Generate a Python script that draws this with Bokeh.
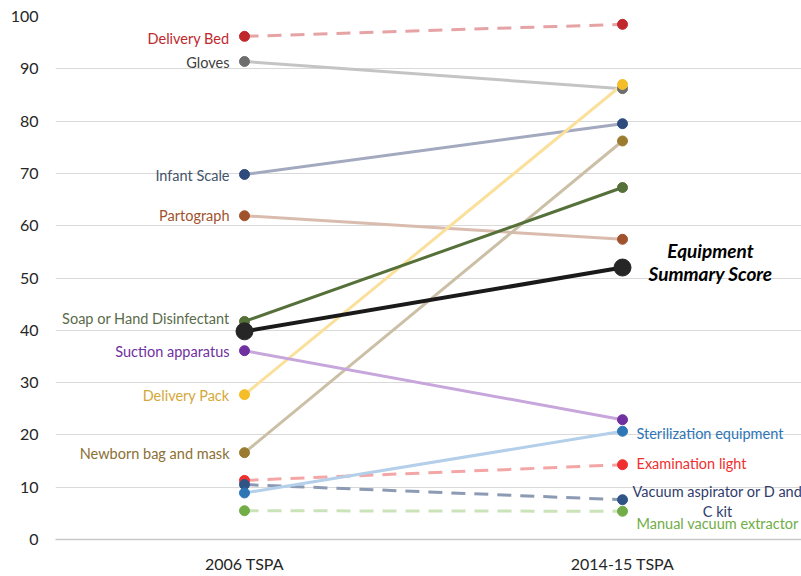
from bokeh.plotting import figure
from bokeh.models import FixedTicker, Range1d
from bokeh.core.properties import value
from bokeh.embed import file_html
from bokeh.resources import INLINE

categories = ["2006 TSPA", "2014-15 TSPA"]

items = ["Delivery Bed", "Gloves", "Infant Scale", "Partograph", "Soap or Hand Disinfectant",
         "Suction apparatus", "Delivery Pack", "Newborn bag and mask", "Examination light",
         "Vacuum aspirator or D and C kit", "Sterilization equipment", "Manual vacuum extractor"]
values_2006 = [96.2, 91.4, 69.8, 61.9, 41.7, 36.1, 27.7, 16.6, 11.3, 10.5, 8.9, 5.5]
values_2015 = [98.5, 86.2, 79.5, 57.4, 67.3, 22.9, 87.0, 76.2, 14.3, 7.6, 20.7, 5.4]

summary_name = "Equipment Summary Score"
summary_2006 = 39.8
summary_2015 = 52.0

y_ticks = [0, 10, 20, 30, 40, 50, 60, 70, 80, 90, 100]

# styles
dot_colors = ["#C0282D", "#6E6E6E", "#2F4B7C", "#A0522D", "#56703A", "#7030A0",
              "#F5BE28", "#9A7B30", "#F03030", "#2F5486", "#2E75B6", "#70AD47"]
line_colors = ["#E6A3A5", "#C4C4C4", "#A3AABF", "#D9BCAE", "#56703A", "#C7A6DC",
               "#FAE09A", "#CBBFA5", "#F4A6A6", "#8C9BB3", "#B4CFEA", "#CBE3B9"]
label_colors = ["#C0282D", "#404040", "#44546A", "#A0522D", "#5A6B4A", "#7030A0",
                "#D4A838", "#8B6F34", "#F03030", "#2F3C6B", "#2E75B6", "#70AD47"]
dashes = ["14 9", "solid", "solid", "solid", "solid", "solid",
          "solid", "solid", "14 9", "14 9", "solid", "14 9"]
# label side: 0 = left of first point, 1 = right of second point
label_side = [0, 0, 0, 0, 0, 0, 0, 0, 1, 1, 1, 1]
label_dy = [2, 1, 1, 0, -3, 1, 1, 1, -1, 2, 2, 12]

FONT = "Lato"
LABEL_SIZE = "14.5px"

p = figure(width=801, height=576, output_backend="svg", toolbar_location=None,
           x_range=Range1d(-0.5, 1.4735), y_range=Range1d(0, 100),
           min_border_left=55, min_border_right=0, min_border_top=16, min_border_bottom=37)
p.outline_line_color = None
p.background_fill_color = "white"
p.border_fill_color = "white"

xs = [0, 1]
order = [0, 1, 2, 3, 6, 7, 5, 4, 8, 9, 11, 10]
for i in order:
    p.line(xs, [values_2006[i], values_2015[i]], line_color=line_colors[i], line_width=3,
           line_dash=dashes[i])
for i in order:
    p.scatter(xs, [values_2006[i], values_2015[i]], size=10, fill_color=dot_colors[i],
              line_color=dot_colors[i])

# summary
p.line(xs, [summary_2006, summary_2015], line_color="#1A1A1A", line_width=4)
p.scatter(xs, [summary_2006, summary_2015], size=17, fill_color="#262626", line_color="#262626")

# labels
for i in range(len(items)):
    side = label_side[i]
    yv = values_2006[i] if side == 0 else values_2015[i]
    txt = items[i]
    if i == 9:
        txt = "Vacuum aspirator or D and\nC kit"
        p.text(x=[1], y=[yv], text=[txt], x_offset=95, y_offset=label_dy[i],
               text_align="center", text_baseline="middle", text_font=value(FONT),
               text_font_size=LABEL_SIZE, text_color=label_colors[i], text_line_height=1.18)
        continue
    p.text(x=[side], y=[yv], text=[txt], x_offset=(-15 if side == 0 else 14),
           y_offset=label_dy[i],
           text_align=("right" if side == 0 else "left"), text_baseline="middle",
           text_font=value(FONT), text_font_size=LABEL_SIZE, text_color=label_colors[i])

p.text(x=[1], y=[summary_2015], text=["Equipment\nSummary Score"], x_offset=88, y_offset=-6,
       text_align="center", text_baseline="middle", text_font=value(FONT),
       text_font_size="19px", text_font_style="bold italic", text_color="#000000",
       text_line_height=1.0)

# axes
p.xaxis.ticker = FixedTicker(ticks=xs)
p.xaxis.major_label_overrides = {0: categories[0], 1: categories[1]}
p.yaxis.ticker = FixedTicker(ticks=y_ticks)
for ax in (p.xaxis[0], p.yaxis[0]):
    ax.major_tick_line_color = None
    ax.minor_tick_line_color = None
    ax.major_label_text_font = FONT
    ax.major_label_text_font_size = "16px"
    ax.major_label_text_color = "#262626"
p.yaxis.axis_line_color = None
p.yaxis.major_label_standoff = 11
p.xaxis.axis_line_color = "#C8C8C8"
p.xaxis.axis_line_width = 1.5
p.xaxis.major_label_standoff = 8
p.xgrid.grid_line_color = None
p.ygrid.grid_line_color = "#D9D9D9"
p.ygrid.grid_line_width = 1

open("out.html", "w").write(file_html(p, INLINE))
